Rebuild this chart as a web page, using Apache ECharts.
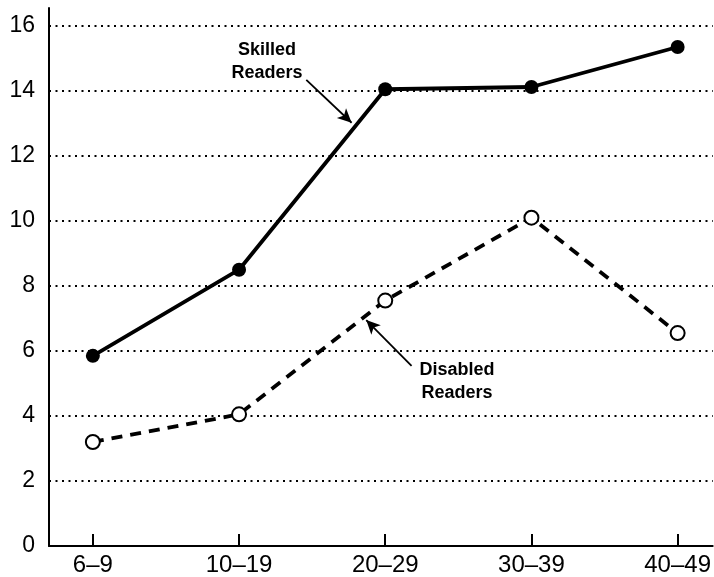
<!DOCTYPE html>
<html>
<head>
<meta charset="utf-8">
<script src="https://cdn.jsdelivr.net/npm/echarts@6/dist/echarts.min.js"></script>
<style>
  html, body { margin: 0; padding: 0; background: #fff; }
  #chart { width: 714px; height: 577px; }
</style>
</head>
<body>
<div id="chart"></div>
<script>
// age groups on x axis
const categories = ['6–9', '10–19', '20–29', '30–39', '40–49'];
const catIndex = [0, 1, 2, 3, 4];
const skilled = [5.85, 8.5, 14.05, 14.12, 15.35];
const disabled = [3.2, 4.05, 7.55, 10.1, 6.55];

// annotation arrows, in data units (start -> tip)
const skilledArrow = [[1.46, 14.34], [1.77, 13.02]];
const disabledArrow = [[2.18, 5.54], [1.87, 6.95]];

const font = '"Liberation Sans", Arial, Helvetica, sans-serif';

const chart = echarts.init(document.getElementById('chart'));

function arrowLine(pts) {
  return {
    silent: true,
    symbol: ['none', 'arrow'],
    symbolSize: [10, 14],
    label: { show: false },
    lineStyle: { color: '#000', width: 1.8, type: 'solid' },
    animation: false,
    data: [[{ coord: pts[0] }, { coord: pts[1] }]]
  };
}

chart.setOption({
  animation: false,
  backgroundColor: '#fff',
  grid: { left: 49, right: 0, top: 8, bottom: 31 },
  xAxis: {
    type: 'value',
    min: -0.3,
    max: 4.24,
    axisLine: { show: true, onZero: false, lineStyle: { color: '#000', width: 2 } },
    axisTick: {
      show: true, inside: true, length: 12,
      customValues: catIndex,
      lineStyle: { color: '#000', width: 2 }
    },
    axisLabel: {
      customValues: catIndex,
      formatter: v => categories[v],
      color: '#000', fontFamily: font, fontSize: 24, margin: 7
    },
    splitLine: { show: false }
  },
  yAxis: {
    type: 'value',
    min: 0,
    max: 16.55,
    interval: 2,
    axisLine: { show: true, onZero: false, lineStyle: { color: '#000', width: 2 } },
    axisTick: { show: false },
    axisLabel: {
      showMaxLabel: false,
      color: '#000', fontFamily: font, fontSize: 23, margin: 14
    },
    splitLine: {
      show: true,
      showMaxLine: false,
      showMinLine: false,
      lineStyle: { color: '#000', width: 2, type: [2, 4.5] }
    }
  },
  series: [
    {
      name: 'Skilled Readers',
      type: 'line',
      data: catIndex.map((x, i) => [x, skilled[i]]),
      symbol: 'circle',
      symbolSize: 14,
      itemStyle: { color: '#000' },
      lineStyle: { color: '#000', width: 3.8 },
      z: 3,
      markLine: arrowLine(skilledArrow)
    },
    {
      name: 'Disabled Readers',
      type: 'line',
      data: catIndex.map((x, i) => [x, disabled[i]]),
      symbol: 'circle',
      symbolSize: 14,
      itemStyle: { color: '#fff', borderColor: '#000', borderWidth: 2 },
      lineStyle: { color: '#000', width: 3.8, type: [11, 8] },
      z: 3,
      markLine: arrowLine(disabledArrow)
    }
  ],
  graphic: [
    {
      type: 'text', x: 267, y: 62, z: 10,
      style: {
        text: 'Skilled\nReaders', fill: '#000', font: 'bold 18px ' + font,
        align: 'center', verticalAlign: 'middle', lineHeight: 23
      }
    },
    {
      type: 'text', x: 457, y: 382, z: 10,
      style: {
        text: 'Disabled\nReaders', fill: '#000', font: 'bold 18px ' + font,
        align: 'center', verticalAlign: 'middle', lineHeight: 23
      }
    }
  ]
});
</script>
</body>
</html>
